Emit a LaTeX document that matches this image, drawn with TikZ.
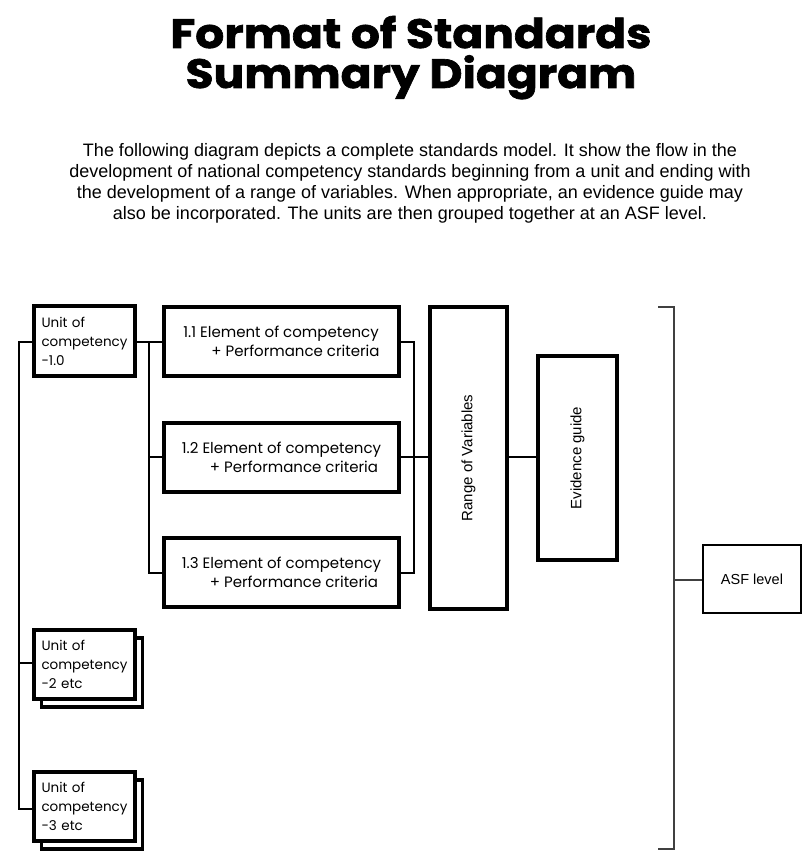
\documentclass[tikz,border=0pt]{standalone}
\usepackage{fontspec}
\setmainfont{Liberation Sans}
\newfontfamily\titlefont{Poppins}[FakeStretch=1.11, BoldFeatures={FakeBold=1.6}]
\newfontfamily\bodyfont{Liberation Sans}
\newfontfamily\boxfont{Poppins}

\tikzset{
  heavybox/.style={draw, line width=3.2pt, fill=white, rectangle, inner sep=0pt},
  unitbox/.style={heavybox, minimum width=101pt, minimum height=70pt,
    text width=86pt, align=left, font=\boxfont\fontsize{13.5}{19}\selectfont},
  elembox/.style={heavybox, minimum width=235pt, minimum height=69pt,
    align=left, font=\boxfont\fontsize{15}{19.5}\selectfont},
  tallbox/.style={heavybox, font=\fontsize{15}{18}\selectfont},
  wire/.style={line width=1.9pt, line cap=rect},
  bracketline/.style={line width=1.7pt, draw=black!75},
}

\begin{document}
\begin{tikzpicture}[x=1pt, y=-1pt]
\useasboundingbox (0,0) rectangle (802,851);

% heading (anchored on its last baseline)
\node[font=\titlefont\bfseries\fontsize{41}{40}\selectfont, align=center, anchor=base]
  (title) at (411,88) {Format of Standards\\Summary Diagram};

% introductory paragraph (anchored on its last baseline)
\node[font=\bodyfont\fontsize{18}{20.7}\selectfont, align=center, anchor=base]
  (intro) at (410,219) {The following diagram depicts a complete standards model. It show the flow in the\\
  development of national competency standards beginning from a unit and ending with\\
  the development of a range of variables. When appropriate, an evidence guide may\\
  also be incorporated. The units are then grouped together at an ASF level.};

% units of competency (stacked copies sit behind units 2 and 3)
\node[unitbox] (u1) at (84.5,341) {Unit of\\competency\\-1.0};
\node[heavybox, minimum width=101pt, minimum height=69pt] (u2s) at (92,672.5) {};
\node[unitbox, minimum height=69pt] (u2) at (84.5,664.5) {Unit of\\competency\\-2 etc};
\node[heavybox, minimum width=101pt, minimum height=69pt] (u3s) at (92,814.5) {};
\node[unitbox, minimum height=69pt] (u3) at (84.5,806.5) {Unit of\\competency\\-3 etc};

% elements of competency
\node[elembox] (e1) at (281.5,341.5) {1.1 Element of competency\\\hspace*{28pt}+ Performance criteria};
\node[elembox] (e2) at (281.5,457.5) {1.2 Element of competency\\\hspace*{28pt}+ Performance criteria};
\node[elembox] (e3) at (281.5,572.5) {1.3 Element of competency\\\hspace*{28pt}+ Performance criteria};

% range, evidence, ASF
\node[tallbox, minimum width=77pt, minimum height=302pt] (rv) at (468.5,458) {\rotatebox{90}{Range of Variables}};
\node[tallbox, minimum width=79pt, minimum height=204pt] (eg) at (577.5,458) {\rotatebox{90}{Evidence guide}};
\node[heavybox, line width=2.6pt, minimum width=98pt, minimum height=68pt, font=\fontsize{14.5}{18}\selectfont] (asf) at (752,579) {ASF level};

% left spine joining the units
\coordinate (spineTop) at (19,342);
\coordinate (spineBot) at (19,809);
\draw[wire] (u1.west |- spineTop) -- (spineTop) -- (spineBot) -- (u3.west |- spineBot);
\draw[wire] (19,663) -- (u2.west |- 0,663);

% unit 1.0 to its elements
\coordinate (splitA) at (149,342);
\coordinate (splitB) at (149,573);
\draw[wire] (u1.east |- splitA) -- (e1.west |- splitA);
\draw[wire] (splitA) -- (splitB) -- (e3.west |- splitB);
\draw[wire] (149,457) -- (e2.west |- 0,457);

% elements into range of variables
\coordinate (joinA) at (414,342);
\coordinate (joinB) at (414,573);
\draw[wire] (e1.east |- joinA) -- (joinA) -- (joinB) -- (e3.east |- joinB);
\draw[wire] (e2.east |- 0,457) -- (rv.west |- 0,457);

% range to evidence guide
\draw[wire] (rv.east |- 0,457) -- (eg.west |- 0,457);

% bracket grouping everything at ASF level
\coordinate (brTop) at (674,307);
\coordinate (brBot) at (674,849);
\draw[bracketline] (658,307) -- (brTop) -- (brBot) -- (658,849);
\draw[bracketline] (674,580) -- (asf.west |- 0,580);
\end{tikzpicture}
\end{document}
